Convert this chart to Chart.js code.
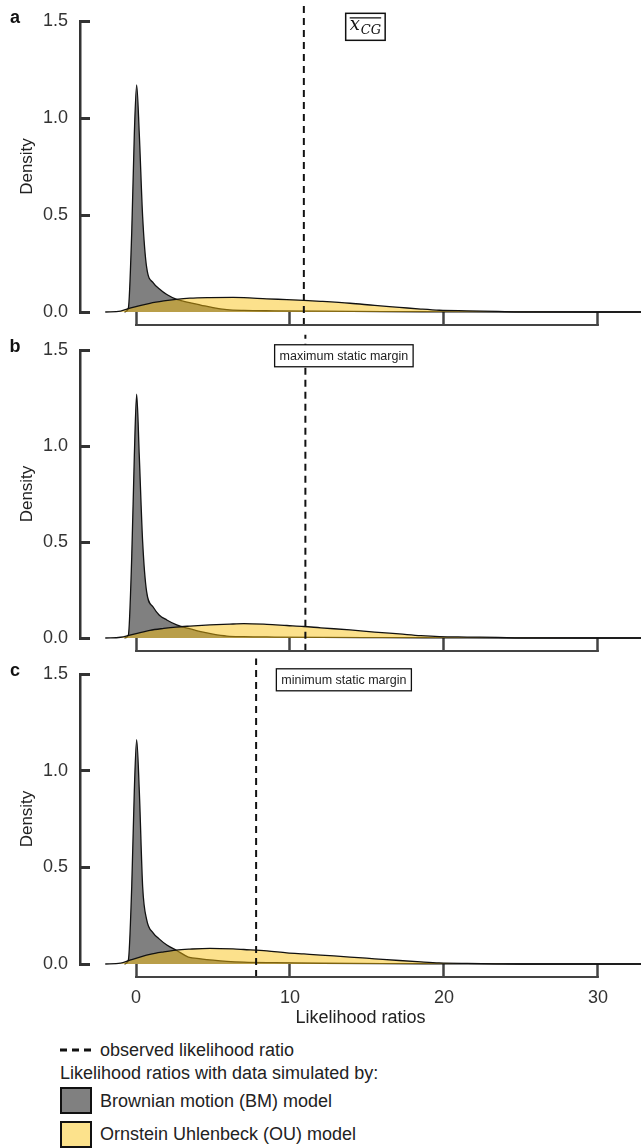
<!DOCTYPE html>
<html>
<head>
<meta charset="utf-8">
<script src="https://cdn.jsdelivr.net/npm/chart.js@4.4.1/dist/chart.umd.min.js"></script>
<style>
  body { margin: 0; background: #fff; width: 641px; height: 1148px; position: relative; overflow: hidden;
         font-family: "Liberation Sans", Arial, sans-serif; color: #222; }
  canvas { position: absolute; left: 0; }
  .txt { position: absolute; font-size: 18px; line-height: 22px; white-space: nowrap; }
  .swatch { position: absolute; left: 60px; width: 32px; height: 27px; box-sizing: border-box; border: 2px solid #111; }
</style>
</head>
<body>
<canvas id="panelA" width="641" height="330" style="top:0px"></canvas>
<canvas id="panelB" width="641" height="322" style="top:330px"></canvas>
<canvas id="panelC" width="641" height="379" style="top:654px"></canvas>

<svg style="position:absolute; left:60px; top:1048px" width="34" height="4">
  <line x1="0" y1="2" x2="34" y2="2" stroke="#111" stroke-width="3" stroke-dasharray="7,5"></line>
</svg>
<div class="txt" style="left:100px; top:1039px">observed likelihood ratio</div>
<div class="txt" style="left:60px; top:1062px">Likelihood ratios with data simulated by:</div>
<div class="swatch" style="top:1087px; background:#808080"></div>
<div class="txt" style="left:100px; top:1090px">Brownian motion (BM) model</div>
<div class="swatch" style="top:1121px; background:#fce28c"></div>
<div class="txt" style="left:100px; top:1123px">Ornstein Uhlenbeck (OU) model</div>

<script>
// ---- data ----
const xTicks = [0, 10, 20, 30];
const yTicks = [0, 0.5, 1.0, 1.5];
const panelLetters = ["a", "b", "c"];
const panelLabels = ["xCG", "maximum static margin", "minimum static margin"];
const observedLR = [10.9, 11.0, 7.8];

// Brownian motion densities (x positions shared by the three panels)
const bmX = [-0.75, -0.5, -0.28, -0.11, 0.04, 0.21, 0.43, 0.69, 1.12, 1.5, 2.0, 2.64, 3.4, 4.2, 5.0, 5.9, 7, 9, 12, 16, 20, 25, 32.8];
const bmA = [0, 0.02, 0.41, 0.92, 1.17, 0.92, 0.49, 0.23, 0.15, 0.12, 0.09, 0.065, 0.05, 0.036, 0.022, 0.012, 0.008, 0.006, 0.004, 0.002, 0.001, 0, 0];
const bmB = [0, 0.015, 0.42, 0.95, 1.27, 0.95, 0.5, 0.24, 0.16, 0.12, 0.094, 0.068, 0.05, 0.033, 0.02, 0.01, 0.007, 0.005, 0.003, 0.002, 0.001, 0, 0];
const bmC = [0, 0.02, 0.4, 0.9, 1.16, 0.9, 0.4, 0.23, 0.16, 0.13, 0.098, 0.07, 0.036, 0.027, 0.02, 0.014, 0.01, 0.007, 0.004, 0.002, 0.001, 0, 0];

// Ornstein Uhlenbeck densities
const ouX = [-2, -1, -0.4, 0.9, 1.8, 2.6, 3.5, 4.8, 6.3, 7.0, 8.5, 9.8, 10.9, 12, 13.9, 15.5, 17.1, 18.5, 19.7, 21.5, 23.5, 25, 32.8];
const ouA = [0, 0.005, 0.02, 0.045, 0.057, 0.065, 0.071, 0.074, 0.075, 0.074, 0.068, 0.064, 0.06, 0.055, 0.045, 0.034, 0.024, 0.015, 0.009, 0.006, 0.003, 0.001, 0];
const ouB = [0, 0.004, 0.015, 0.04, 0.05, 0.057, 0.062, 0.068, 0.073, 0.075, 0.071, 0.065, 0.06, 0.053, 0.042, 0.031, 0.021, 0.012, 0.007, 0.005, 0.003, 0.001, 0];
const ouC = [0, 0.004, 0.02, 0.05, 0.063, 0.072, 0.077, 0.081, 0.078, 0.075, 0.068, 0.058, 0.052, 0.046, 0.036, 0.027, 0.018, 0.011, 0.006, 0.003, 0.001, 0, 0];

const FONT = '"Liberation Sans", Arial, sans-serif';

function pts(xs, ys) {
  return xs.map((x, i) => ({ x: x, y: ys[i] }));
}

// bracket under the plot, panel letter and the boxed label
const decor = {
  id: "decor",
  afterDatasetsDraw(chart, args, opts) {
    const ctx = chart.ctx;
    const xs = chart.scales.x, ys = chart.scales.y;
    const area = chart.chartArea;
    ctx.save();

    // x bracket line
    const by = area.bottom + 13;
    ctx.strokeStyle = "#444";
    ctx.lineWidth = 2;
    ctx.beginPath();
    ctx.moveTo(xs.getPixelForValue(xTicks[0]) - 1, by);
    ctx.lineTo(xs.getPixelForValue(xTicks[xTicks.length - 1]) + 1, by);
    ctx.stroke();

    // panel letter
    ctx.fillStyle = "#111";
    ctx.font = "bold 18px " + FONT;
    ctx.textAlign = "center";
    ctx.textBaseline = "middle";
    ctx.fillText(opts.letter, 15, area.top - 3);

    // boxed label
    const cx = xs.getPixelForValue(opts.labelX);
    const cy = ys.getPixelForValue(1.47);
    if (opts.math) {
      ctx.font = 'italic 18px "DejaVu Serif"';
      const wx = ctx.measureText("x").width;
      ctx.font = 'italic 13px "DejaVu Serif"';
      const ws = ctx.measureText("CG").width;
      const w = wx + ws + 1;
      const bw = w + 8, bh = 27;
      ctx.fillStyle = "#fff";
      ctx.fillRect(cx - bw / 2, cy - bh / 2, bw, bh);
      ctx.strokeStyle = "#111";
      ctx.lineWidth = 1.5;
      ctx.strokeRect(cx - bw / 2, cy - bh / 2, bw, bh);
      const x0 = cx - w / 2;
      ctx.fillStyle = "#111";
      ctx.textAlign = "left";
      ctx.textBaseline = "alphabetic";
      ctx.font = 'italic 18px "DejaVu Serif"';
      ctx.fillText("x", x0, cy + 3);
      ctx.font = 'italic 13px "DejaVu Serif"';
      ctx.fillText("CG", x0 + wx + 1, cy + 7);
      ctx.lineWidth = 1.2;
      ctx.beginPath();
      ctx.moveTo(x0, cy - 9);
      ctx.lineTo(x0 + w, cy - 9);
      ctx.stroke();
    } else {
      ctx.font = "12.5px " + FONT;
      const w = ctx.measureText(opts.text).width;
      const bw = w + 10, bh = 22;
      ctx.fillStyle = "#fff";
      ctx.fillRect(cx - bw / 2, cy - bh / 2, bw, bh);
      ctx.strokeStyle = "#111";
      ctx.lineWidth = 1.3;
      ctx.strokeRect(cx - bw / 2, cy - bh / 2, bw, bh);
      ctx.fillStyle = "#222";
      ctx.textAlign = "center";
      ctx.textBaseline = "middle";
      ctx.fillText(opts.text, cx, cy + 1);
    }
    ctx.restore();
  }
};

function makePanel(id, i, bmY, ouY, showX, xHeight, padTop) {
  const isMath = i === 0;
  return new Chart(document.getElementById(id), {
    type: "line",
    data: {
      datasets: [
        {
          data: [{ x: observedLR[i], y: -0.067 }, { x: observedLR[i], y: 1.58 }],
          borderColor: "#111", borderWidth: 2, borderDash: [7, 5],
          pointRadius: 0, fill: false, clip: false, order: 0
        },
        {
          data: pts(ouX, ouY),
          borderColor: "#111", borderWidth: 1.3,
          backgroundColor: "rgba(248, 192, 10, 0.47)",
          fill: "origin", pointRadius: 0, cubicInterpolationMode: "monotone", clip: false, order: 1
        },
        {
          data: pts(bmX, bmY),
          borderColor: "#111", borderWidth: 1.3,
          backgroundColor: "#808080",
          fill: "origin", pointRadius: 0, cubicInterpolationMode: "monotone", clip: false, order: 2
        }
      ]
    },
    options: {
      responsive: false,
      animation: false,
      events: [],
      layout: { padding: { top: padTop, left: 14, right: 0, bottom: 0 } },
      scales: {
        x: {
          type: "linear", min: -3.64, max: 32.8,
          afterBuildTicks: (s) => { s.ticks = xTicks.map((v) => ({ value: v })); },
          afterFit: (s) => { s.height = xHeight; s.paddingLeft = 0; s.paddingRight = 0; },
          border: { display: false },
          grid: { drawOnChartArea: false, drawTicks: true, tickLength: 13, tickColor: "#444", tickWidth: 2.5 },
          ticks: { display: showX, padding: 10, color: "#333", font: { family: FONT, size: 18 },
                   callback: (v) => String(v) },
          title: { display: showX, text: "Likelihood ratios", color: "#222",
                   font: { family: FONT, size: 18 }, padding: { top: 2, bottom: 4 } }
        },
        y: {
          min: 0, max: 1.5,
          afterBuildTicks: (s) => { s.ticks = yTicks.map((v) => ({ value: v })); },
          afterFit: (s) => { s.width = 66; s.paddingTop = 0; s.paddingBottom = 0; },
          border: { display: true, color: "#333", width: 2.5 },
          grid: { drawOnChartArea: false, drawTicks: true, tickLength: -10, tickColor: "#333", tickWidth: 3 },
          ticks: { padding: 22, color: "#333", font: { family: FONT, size: 18 },
                   callback: (v) => Number(v).toFixed(1) },
          title: { display: true, text: "Density", color: "#222",
                   font: { family: FONT, size: 17 }, padding: { top: 3, bottom: 4 } }
        }
      },
      plugins: {
        legend: { display: false },
        tooltip: { enabled: false },
        decor: { letter: panelLetters[i], text: panelLabels[i], math: isMath, labelX: isMath ? 14.9 : 13.5 }
      }
    },
    plugins: [decor]
  });
}

makePanel("panelA", 0, bmA, ouA, false, 18, 21);
makePanel("panelB", 1, bmB, ouB, false, 14, 20);
makePanel("panelC", 2, bmC, ouC, true, 69, 20);
</script>
</body>
</html>
